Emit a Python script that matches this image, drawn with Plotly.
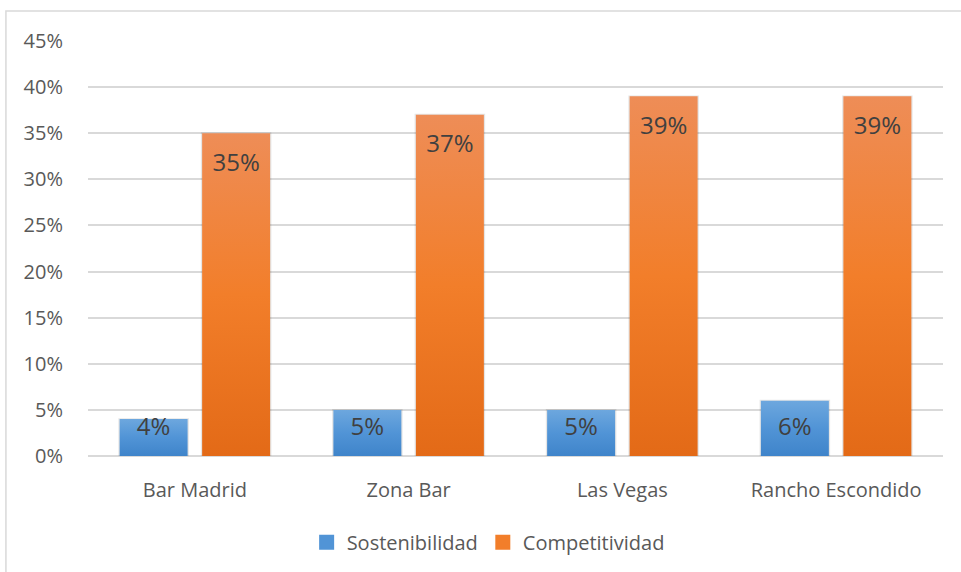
import plotly.graph_objects as go

# Data
categories = ["Bar Madrid", "Zona Bar", "Las Vegas", "Rancho Escondido"]
sostenibilidad = [4, 5, 5, 6]
competitividad = [35, 37, 39, 39]
y_ticks = [0, 5, 10, 15, 20, 25, 30, 35, 40, 45]

series = [
    ("Sostenibilidad", sostenibilidad,
     [[0, "#3F84CA"], [0.5, "#5194D6"], [1, "#6DA7DE"]]),
    ("Competitividad", competitividad,
     [[0, "#E36A17"], [0.5, "#F27E2A"], [1, "#EE8D57"]]),
]

# Bar geometry in category units (one category = 1.0)
slot = 0.386
half_w = 0.159

fig = go.Figure()

for k, (name, values, cscale) in enumerate(series):
    offset = (k - 0.5) * slot
    for i, v in enumerate(values):
        c = i + offset
        # soft shadow behind the bar
        fig.add_trace(go.Scatter(
            x=[c - half_w - 0.006, c + half_w + 0.006, c + half_w + 0.006, c - half_w - 0.006, c - half_w - 0.006],
            y=[-0.15, -0.15, v + 0.1, v + 0.1, -0.15],
            mode="lines", fill="toself", fillcolor="rgba(0,0,0,0.10)",
            line=dict(width=0), hoverinfo="skip", showlegend=False,
        ))
        fig.add_trace(go.Scatter(
            x=[c - half_w, c + half_w, c + half_w, c - half_w, c - half_w],
            y=[0, 0, v, v, 0],
            mode="lines", fill="toself",
            fillgradient=dict(type="vertical", colorscale=cscale),
            line=dict(width=0),
            name=name, legendgroup=name, showlegend=False,
            hoverinfo="skip",
        ))
        # value label near the top of the bar
        fig.add_trace(go.Scatter(
            x=[c], y=[max(v - 3.4, 2.95)], mode="text",
            text=[f"{v}%"],
            textfont=dict(family="Open Sans", size=24, color="#404040"),
            showlegend=False, hoverinfo="skip",
        ))
    # legend entry
    fig.add_trace(go.Scatter(
        x=[None], y=[None], mode="markers",
        marker=dict(symbol="square", size=15, color=cscale[1][1]),
        name=name, legendgroup=name, showlegend=True,
    ))

fig.update_layout(
    width=961, height=572,
    margin=dict(l=88, r=18, t=41, b=115),
    paper_bgcolor="white", plot_bgcolor="white",
    font=dict(family="Open Sans", color="#595959", size=20),
    showlegend=True,
    legend=dict(
        orientation="h", x=0.468, xanchor="center", y=-0.205, yanchor="middle",
        font=dict(size=20, color="#595959"), itemwidth=30, tracegroupgap=0,
    ),
    xaxis=dict(
        range=[-0.5, 3.5], tickmode="array", tickvals=list(range(len(categories))),
        ticktext=categories, showgrid=False, zeroline=False,
        showline=False, ticks="", ticklabelstandoff=20,
        tickfont=dict(size=20, color="#595959"),
    ),
    yaxis=dict(
        range=[0, 45], tickmode="array", tickvals=y_ticks,
        ticktext=[f"{t}%" for t in y_ticks],
        showgrid=True, gridcolor="#D9D9D9", gridwidth=1.5,
        zeroline=True, zerolinecolor="#D9D9D9", zerolinewidth=1.5,
        ticks="", ticklabelstandoff=24,
        tickfont=dict(size=20, color="#595959"),
    ),
    shapes=[dict(
        type="rect", xref="paper", yref="paper",
        x0=-0.096, x1=1.1, y0=-0.4, y1=1.072,
        line=dict(color="#D9D9D9", width=1.5), fillcolor="rgba(0,0,0,0)",
        layer="below",
    )],
)

fig.write_html("out.html")
